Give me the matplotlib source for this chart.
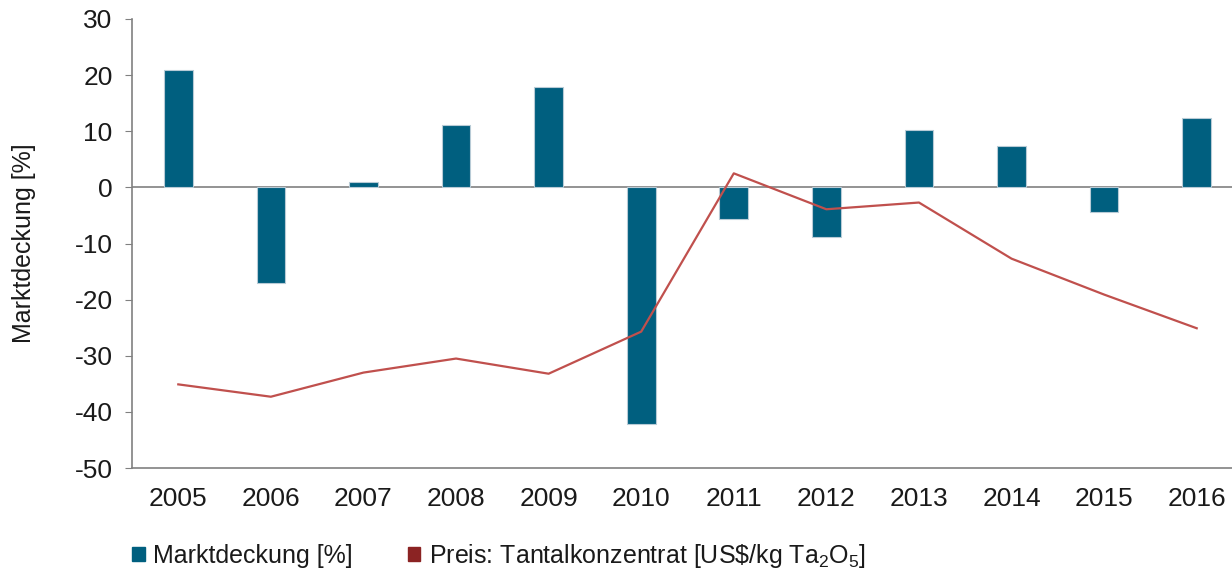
import matplotlib
matplotlib.use("Agg")
import matplotlib.pyplot as plt
from matplotlib.patches import Patch

plt.rcParams['font.family'] = ['Liberation Sans', 'DejaVu Sans']
plt.rcParams['mathtext.fontset'] = 'custom'
plt.rcParams['mathtext.rm'] = 'Liberation Sans'
plt.rcParams['mathtext.it'] = 'Liberation Sans'
plt.rcParams['axes.unicode_minus'] = False

years = ["2005", "2006", "2007", "2008", "2009", "2010",
         "2011", "2012", "2013", "2014", "2015", "2016"]
marktdeckung = [21, -17, 1, 11.2, 17.8, -42.2, -5.7, -8.9, 10.3, 7.3, -4.3, 12.3]
preis = [-35.1, -37.3, -33, -30.5, -33.2, -25.7, 2.5, -3.9, -2.7, -12.7, -19.1, -25.1]

bar_color = "#005f7f"
line_color = "#c0504d"
legend_line_color = "#8b2323"
axis_gray = "#808080"
text_color = "#1a1a1a"

fig = plt.figure(figsize=(12.32, 5.76), dpi=100)
ax = fig.add_axes([132 / 1232, 108 / 576, (1243 - 132) / 1232, 449 / 576])

x = list(range(len(years)))
ax.bar(x, marktdeckung, width=0.31, color=bar_color, edgecolor="#b8cbd6",
       linewidth=0.8, zorder=2)
ax.axhline(0, color=axis_gray, linewidth=1.2, zorder=1)
ax.plot(x, preis, color=line_color, linewidth=1.6, zorder=3)

ax.set_xlim(-0.5, len(years) - 0.5)
ax.set_ylim(-50, 30)
ax.set_yticks(range(-50, 31, 10))
ax.set_xticks(x)
ax.set_xticklabels(years)

for s in ["top", "right"]:
    ax.spines[s].set_visible(False)
ax.spines["left"].set_color(axis_gray)
ax.spines["bottom"].set_color(axis_gray)
ax.spines["left"].set_linewidth(1.2)
ax.spines["bottom"].set_linewidth(1.2)
ax.tick_params(axis="y", length=5, color=axis_gray, labelsize=19, pad=9,
               labelcolor=text_color)
ax.tick_params(axis="x", length=0, labelsize=19, pad=14, labelcolor=text_color)

ax.set_ylabel("Marktdeckung [%]", fontsize=18, color=text_color)
ax.yaxis.set_label_coords(-96 / 1111, 0.5)

handles = [Patch(facecolor=bar_color, edgecolor=bar_color),
           Patch(facecolor=legend_line_color, edgecolor=legend_line_color)]
labels = ["Marktdeckung [%]", r"Preis: Tantalkonzentrat [US\$/kg Ta$_2$O$_5$]"]
fig.legend(handles, labels, loc="center left", bbox_to_anchor=(127 / 1232, 20 / 576),
           ncol=2, frameon=False, fontsize=18, handlelength=0.5, handleheight=0.5,
           handletextpad=0.35, columnspacing=2.2, labelcolor=text_color,
           borderaxespad=0, borderpad=0.2)

fig.savefig("out.png", dpi=100)
